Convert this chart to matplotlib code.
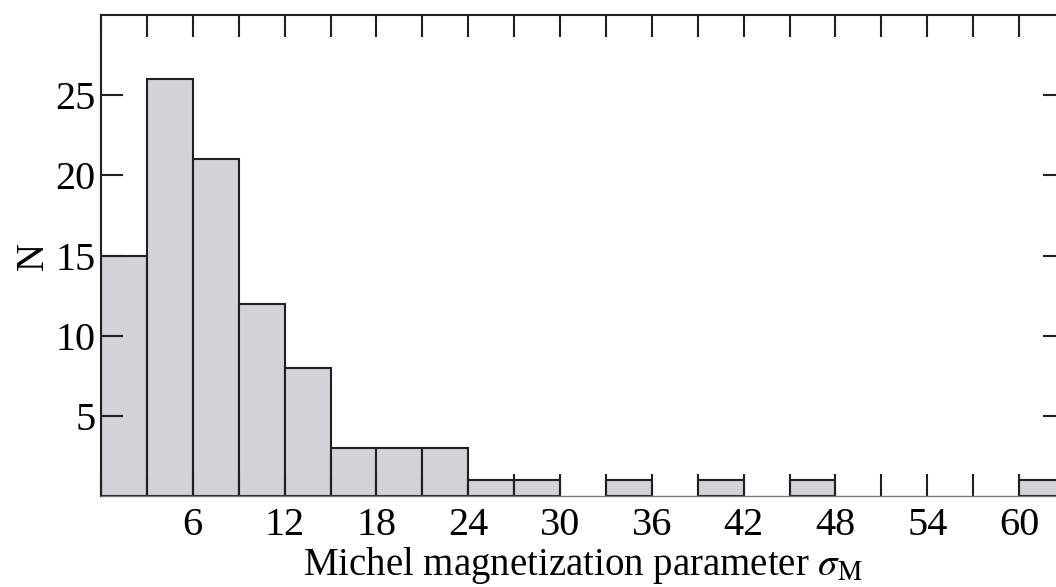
import numpy as np
import matplotlib
matplotlib.use("Agg")
import matplotlib.pyplot as plt
from matplotlib.ticker import MultipleLocator

plt.rcParams["font.family"] = ["Liberation Serif", "DejaVu Serif"]
plt.rcParams["mathtext.fontset"] = "stix"

# histogram of sigma_M, bins of width 3 starting at 0
bin_left = [0, 3, 6, 9, 12, 15, 18, 21, 24, 27, 30, 33, 36, 39, 42, 45, 48, 51, 54, 57, 60]
counts = [15, 26, 21, 12, 8, 3, 3, 3, 1, 1, 0, 1, 0, 1, 0, 1, 0, 0, 0, 0, 1]
bin_width = 3
x_labels = [6, 12, 18, 24, 30, 36, 42, 48, 54, 60]
y_ticks = [5, 10, 15, 20, 25]

W, H = 1056, 587
fig = plt.figure(figsize=(W / 100, H / 100), dpi=100)
# axes runs slightly past the right edge of the figure (as in the reference crop)
x0, x1 = 101, 1065
y0, y1 = 496, 15
ax = fig.add_axes([x0 / W, 1 - y0 / H, (x1 - x0) / W, (y0 - y1) / H])

left = np.array(bin_left, dtype=float)
h = np.array(counts, dtype=float)
m = h > 0
ax.bar(left[m], h[m], width=bin_width, align="edge", color="#d1d3d6",
       edgecolor="#231f20", linewidth=1.5, zorder=1)

ax.set_xlim(0, 63)
ax.set_ylim(0, 30)
ax.set_xticks(x_labels)
ax.set_xticklabels([str(v) for v in x_labels])
ax.xaxis.set_minor_locator(MultipleLocator(3))
ax.set_yticks(y_ticks)

ax.tick_params(axis="both", which="both", direction="in", length=16, width=1.5,
               color="#231f20", labelsize=29, top=True, right=True)
ax.tick_params(axis="x", which="major", pad=8)
ax.tick_params(axis="y", which="major", pad=4)

for side in ("top", "left", "right"):
    ax.spines[side].set_linewidth(1.5)
    ax.spines[side].set_color("#231f20")
ax.spines["bottom"].set_linewidth(1.0)
ax.spines["bottom"].set_color("#777777")

ax.set_xlabel(r"Michel magnetization parameter $\sigma_{\rm M}$", fontsize=28, labelpad=1)
ax.set_ylabel("N", fontsize=28, labelpad=2)

fig.savefig("out.png", dpi=100)
